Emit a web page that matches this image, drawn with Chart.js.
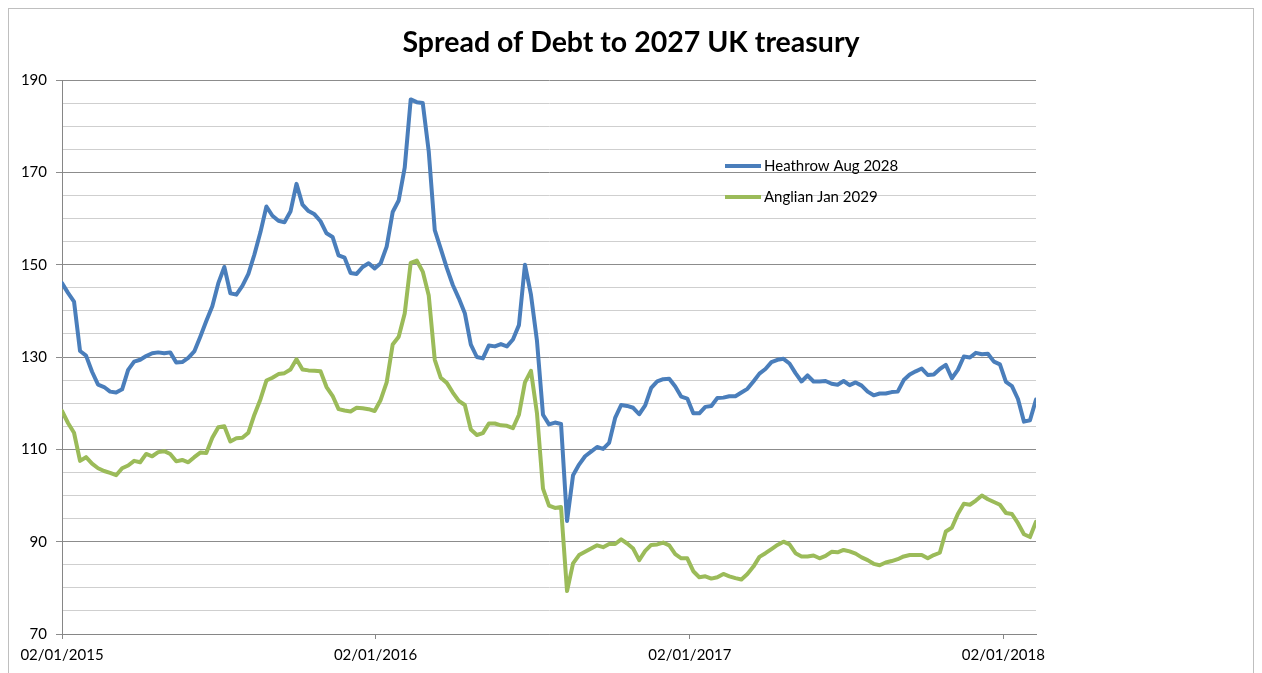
<!DOCTYPE html>
<html>
<head>
<meta charset="utf-8">
<script src="https://cdn.jsdelivr.net/npm/chart.js@4"></script>
<style>
  body { margin: 0; background: #fff; }
  #wrap { width: 1262px; height: 673px; position: relative; }
</style>
</head>
<body>
<div id="wrap"><canvas id="chart"></canvas></div>
<script>
const chartTitle = 'Spread of Debt to 2027 UK treasury';
const seriesNames = ['Heathrow Aug 2028', 'Anglian Jan 2029'];
const seriesColors = ['#4a7ebb', '#9bbb59'];

// x ticks, in days from 02/01/2015
const tickDays = [0, 365, 731, 1096];
const tickLabels = ['02/01/2015', '02/01/2016', '02/01/2017', '02/01/2018'];
const daysPerPoint = 7; // weekly readings from 02/01/2015

// spread in bp, one value per week
const heathrow = [
  146.0, 143.9, 142.0, 131.3, 130.3, 126.8, 124.0, 123.5, 122.5, 122.3,
  123.0, 127.2, 129.0, 129.4, 130.2, 130.8, 131.0, 130.8, 131.0, 128.8,
  128.9, 129.8, 131.2, 134.4, 137.8, 141.0, 146.0, 149.5, 143.8, 143.5,
  145.4, 148.0, 152.2, 157.0, 162.6, 160.6, 159.5, 159.2, 161.5, 167.5,
  163.0, 161.6, 160.9, 159.4, 156.8, 156.0, 152.0, 151.5, 148.2, 148.0,
  149.5, 150.3, 149.2, 150.3, 153.9, 161.4, 163.9, 171.0, 185.8, 185.2,
  185.0, 174.5, 157.5, 153.4, 149.3, 145.6, 142.7, 139.5, 132.7, 130.0,
  129.7, 132.5, 132.3, 132.8, 132.3, 133.8, 136.9, 150.0, 143.5, 133.5,
  117.5, 115.4, 115.8, 115.5, 94.5, 104.4, 106.7, 108.5, 109.5, 110.5,
  110.1, 111.4, 116.8, 119.6, 119.4, 119.0, 117.6, 119.5, 123.3, 124.7,
  125.2, 125.3, 123.6, 121.4, 121.0, 117.8, 117.8, 119.2, 119.4, 121.1,
  121.2, 121.5, 121.5, 122.3, 123.1, 124.7, 126.4, 127.4, 128.9, 129.4,
  129.6, 128.6, 126.5, 124.7, 126.0, 124.7, 124.7, 124.8, 124.2, 124.0,
  124.8, 123.9, 124.5, 123.8, 122.5, 121.7, 122.1, 122.1, 122.4, 122.5,
  125.0, 126.2, 126.9, 127.5, 126.1, 126.2, 127.4, 128.3, 125.4, 127.2,
  130.1, 129.9, 130.9, 130.6, 130.7, 129.0, 128.4, 124.6, 123.7, 120.9,
  116.0, 116.3, 120.8
];
const anglian = [
  118.3, 115.7, 113.6, 107.5, 108.3, 106.9, 105.9, 105.3, 104.9, 104.4,
  105.9, 106.5, 107.5, 107.2, 109.0, 108.5, 109.4, 109.6, 109.0, 107.4,
  107.7, 107.2, 108.3, 109.3, 109.2, 112.5, 114.8, 115.0, 111.7, 112.4,
  112.5, 113.6, 117.5, 120.8, 124.9, 125.5, 126.3, 126.5, 127.3, 129.5,
  127.3, 127.1, 127.0, 126.9, 123.5, 121.6, 118.7, 118.4, 118.2, 119.0,
  118.9, 118.7, 118.3, 120.7, 124.5, 132.7, 134.4, 139.4, 150.4, 150.9,
  148.5, 143.3, 129.4, 125.5, 124.4, 122.3, 120.5, 119.6, 114.3, 113.1,
  113.5, 115.6, 115.6, 115.2, 115.1, 114.6, 117.5, 124.5, 127.0, 117.8,
  101.5, 97.8, 97.3, 97.5, 79.3, 85.3, 87.1, 87.8, 88.5, 89.2,
  88.8, 89.5, 89.5, 90.5, 89.6, 88.5, 86.0, 88.0, 89.3, 89.4,
  89.8, 89.2, 87.3, 86.4, 86.4, 83.6, 82.3, 82.5, 82.0, 82.3,
  83.0, 82.5, 82.1, 81.8, 83.0, 84.6, 86.7, 87.5, 88.4, 89.3,
  90.0, 89.4, 87.5, 86.8, 86.8, 87.0, 86.4, 86.9, 87.8, 87.7,
  88.2, 87.9, 87.4, 86.6, 86.0, 85.2, 84.9, 85.5, 85.8, 86.2,
  86.8, 87.1, 87.1, 87.1, 86.4, 87.1, 87.6, 92.2, 93.0, 96.0,
  98.2, 98.0, 98.9, 100.0, 99.2, 98.6, 98.0, 96.2, 96.0, 94.0,
  91.6, 91.0, 94.3
];

const FONT = 'Lato, "Noto Sans", sans-serif';

function toPoints(values) {
  return values.map((v, i) => ({ x: i * daysPerPoint, y: v }));
}

// white background, outer frame, title and the little legend in the plot
const frame = {
  id: 'frame',
  beforeDraw(chart) {
    const c = chart.ctx;
    c.save();
    c.fillStyle = '#fff';
    c.fillRect(0, 0, chart.width, chart.height);
    c.strokeStyle = '#bfbfbf';
    c.lineWidth = 1;
    c.strokeRect(8.5, 8.5, 1245, 700);
    c.restore();
  },
  afterDraw(chart) {
    const c = chart.ctx;
    c.save();
    c.fillStyle = '#000';
    c.font = 'bold 28.5px ' + FONT;
    c.textAlign = 'center';
    c.textBaseline = 'middle';
    c.fillText(chartTitle, 631, 43);

    c.font = '15px ' + FONT;
    c.textAlign = 'left';
    chart.data.datasets.forEach((ds, i) => {
      const y = 166 + i * 31;
      c.strokeStyle = ds.borderColor;
      c.lineWidth = 4;
      c.beginPath();
      c.moveTo(725, y);
      c.lineTo(761, y);
      c.stroke();
      c.fillStyle = '#000';
      c.fillText(ds.label, 764, y);
    });
    c.restore();
  }
};

new Chart(document.getElementById('chart'), {
  type: 'line',
  data: {
    datasets: [
      { label: seriesNames[0], data: toPoints(heathrow), borderColor: seriesColors[0] },
      { label: seriesNames[1], data: toPoints(anglian), borderColor: seriesColors[1] }
    ]
  },
  options: {
    responsive: true,
    maintainAspectRatio: false,
    animation: false,
    layout: { padding: { top: 80, right: 226, left: 0, bottom: 0 } },
    elements: {
      line: { borderWidth: 4, tension: 0, borderCapStyle: 'round', borderJoinStyle: 'round' },
      point: { radius: 0 }
    },
    plugins: {
      legend: { display: false },
      title: { display: false },
      tooltip: { enabled: false }
    },
    scales: {
      x: {
        type: 'linear',
        min: 0,
        max: (heathrow.length - 1) * daysPerPoint,
        afterBuildTicks: s => { s.ticks = tickDays.map(v => ({ value: v })); },
        afterFit: s => { s.height = 39; },
        ticks: {
          autoSkip: false,
          maxRotation: 0,
          padding: 7,
          color: '#000',
          font: { family: FONT, size: 15 },
          callback: v => tickLabels[tickDays.indexOf(v)] ?? ''
        },
        grid: { drawOnChartArea: false, tickLength: 5, color: '#868686' },
        border: { color: '#868686' }
      },
      y: {
        min: 70,
        max: 190,
        afterFit: s => { s.width = 62; },
        ticks: {
          stepSize: 5,
          autoSkip: false,
          padding: 9,
          color: '#000',
          font: { family: FONT, size: 15 },
          callback: v => ((v - 70) % 20 === 0 ? v : '')
        },
        grid: {
          color: ctx => ((ctx.tick.value - 70) % 20 === 0 ? '#8c8c8c' : '#cfcfcf'),
          tickColor: ctx => ((ctx.tick.value - 70) % 20 === 0 ? '#8c8c8c' : 'rgba(0,0,0,0)'),
          tickLength: 6
        },
        border: { color: '#868686' }
      }
    }
  },
  plugins: [frame]
});
</script>
</body>
</html>
